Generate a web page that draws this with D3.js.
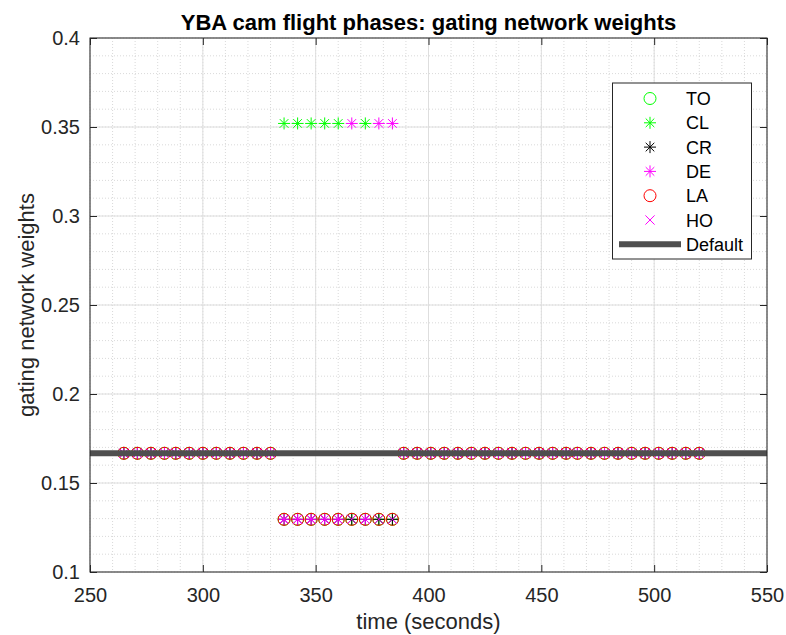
<!DOCTYPE html>
<html>
<head>
<meta charset="utf-8">
<script src="https://cdn.jsdelivr.net/npm/d3@7.9.0/dist/d3.min.js"></script>
<style>
  body { margin: 0; background: #fff; }
  svg { font-family: "Liberation Sans", Arial, Helvetica, sans-serif; }
</style>
</head>
<body>
<svg width="786" height="635"></svg>
<script>
// sample times (seconds)
const time = [265, 271, 277, 283, 288, 294, 300, 306, 312, 318, 324, 330,
  336, 342, 348, 354, 360, 366, 372, 378, 384,
  389, 395, 401, 407, 413, 419, 425, 431, 437, 443, 449, 455, 461, 466, 472, 478, 484, 490, 496, 502, 508, 514, 520];

// gating network weights per expert
const TO = [0.1667, 0.1667, 0.1667, 0.1667, 0.1667, 0.1667, 0.1667, 0.1667, 0.1667, 0.1667, 0.1667, 0.1667,
  0.1296, 0.1296, 0.1296, 0.1296, 0.1296, 0.1296, 0.1296, 0.1296, 0.1296,
  0.1667, 0.1667, 0.1667, 0.1667, 0.1667, 0.1667, 0.1667, 0.1667, 0.1667, 0.1667, 0.1667, 0.1667, 0.1667, 0.1667, 0.1667, 0.1667, 0.1667, 0.1667, 0.1667, 0.1667, 0.1667, 0.1667, 0.1667];
const CL = [0.1667, 0.1667, 0.1667, 0.1667, 0.1667, 0.1667, 0.1667, 0.1667, 0.1667, 0.1667, 0.1667, 0.1667,
  0.352, 0.352, 0.352, 0.352, 0.352, 0.1296, 0.352, 0.1296, 0.1296,
  0.1667, 0.1667, 0.1667, 0.1667, 0.1667, 0.1667, 0.1667, 0.1667, 0.1667, 0.1667, 0.1667, 0.1667, 0.1667, 0.1667, 0.1667, 0.1667, 0.1667, 0.1667, 0.1667, 0.1667, 0.1667, 0.1667, 0.1667];
const CR = [0.1667, 0.1667, 0.1667, 0.1667, 0.1667, 0.1667, 0.1667, 0.1667, 0.1667, 0.1667, 0.1667, 0.1667,
  0.1296, 0.1296, 0.1296, 0.1296, 0.1296, 0.1296, 0.1296, 0.1296, 0.1296,
  0.1667, 0.1667, 0.1667, 0.1667, 0.1667, 0.1667, 0.1667, 0.1667, 0.1667, 0.1667, 0.1667, 0.1667, 0.1667, 0.1667, 0.1667, 0.1667, 0.1667, 0.1667, 0.1667, 0.1667, 0.1667, 0.1667, 0.1667];
const DE = [0.1667, 0.1667, 0.1667, 0.1667, 0.1667, 0.1667, 0.1667, 0.1667, 0.1667, 0.1667, 0.1667, 0.1667,
  0.1296, 0.1296, 0.1296, 0.1296, 0.1296, 0.352, 0.1296, 0.352, 0.352,
  0.1667, 0.1667, 0.1667, 0.1667, 0.1667, 0.1667, 0.1667, 0.1667, 0.1667, 0.1667, 0.1667, 0.1667, 0.1667, 0.1667, 0.1667, 0.1667, 0.1667, 0.1667, 0.1667, 0.1667, 0.1667, 0.1667, 0.1667];
const LA = [0.1667, 0.1667, 0.1667, 0.1667, 0.1667, 0.1667, 0.1667, 0.1667, 0.1667, 0.1667, 0.1667, 0.1667,
  0.1296, 0.1296, 0.1296, 0.1296, 0.1296, 0.1296, 0.1296, 0.1296, 0.1296,
  0.1667, 0.1667, 0.1667, 0.1667, 0.1667, 0.1667, 0.1667, 0.1667, 0.1667, 0.1667, 0.1667, 0.1667, 0.1667, 0.1667, 0.1667, 0.1667, 0.1667, 0.1667, 0.1667, 0.1667, 0.1667, 0.1667, 0.1667];
const HO = [0.1667, 0.1667, 0.1667, 0.1667, 0.1667, 0.1667, 0.1667, 0.1667, 0.1667, 0.1667, 0.1667, 0.1667,
  0.1296, 0.1296, 0.1296, 0.1296, 0.1296, 0.1296, 0.1296, 0.1296, 0.1296,
  0.1667, 0.1667, 0.1667, 0.1667, 0.1667, 0.1667, 0.1667, 0.1667, 0.1667, 0.1667, 0.1667, 0.1667, 0.1667, 0.1667, 0.1667, 0.1667, 0.1667, 0.1667, 0.1667, 0.1667, 0.1667, 0.1667, 0.1667];

const defaultWeight = 0.1667;
const xTicks = [250, 300, 350, 400, 450, 500, 550];
const yTicks = [0.1, 0.15, 0.2, 0.25, 0.3, 0.35, 0.4];

const series = [
  { name: 'TO', values: TO, marker: 'circle', color: '#00ff00' },
  { name: 'CL', values: CL, marker: 'star', color: '#00ff00' },
  { name: 'CR', values: CR, marker: 'star', color: '#000000' },
  { name: 'DE', values: DE, marker: 'star', color: '#ff00ff' },
  { name: 'LA', values: LA, marker: 'circle', color: '#ff0000' },
  { name: 'HO', values: HO, marker: 'cross', color: '#ff00ff' }
];

const axL = 90, axR = 767, axT = 38, axB = 572;
const ink = '#262626';

let x = d3.scaleLinear().domain([250, 550]).range([axL, axR]);
let y = d3.scaleLinear().domain([0.1, 0.4]).range([axB, axT]);

let svg = d3.select('svg');

svg.append('defs').append('clipPath').attr('id', 'plot')
  .append('rect')
  .attr('x', axL).attr('y', axT)
  .attr('width', axR - axL).attr('height', axB - axT);

// minor grid (dotted), then major grid
let grid = svg.append('g');
x.ticks(30).forEach(t => {
  grid.append('line')
    .attr('x1', x(t)).attr('x2', x(t)).attr('y1', axT).attr('y2', axB)
    .attr('stroke', '#cfcfcf').attr('stroke-width', 0.8).attr('stroke-dasharray', '1,2');
});
y.ticks(30).forEach(t => {
  grid.append('line')
    .attr('y1', y(t)).attr('y2', y(t)).attr('x1', axL).attr('x2', axR)
    .attr('stroke', '#cfcfcf').attr('stroke-width', 0.8).attr('stroke-dasharray', '1,2');
});
xTicks.forEach(t => {
  grid.append('line')
    .attr('x1', x(t)).attr('x2', x(t)).attr('y1', axT).attr('y2', axB)
    .attr('stroke', '#dedede').attr('stroke-width', 1);
});
yTicks.forEach(t => {
  grid.append('line')
    .attr('y1', y(t)).attr('y2', y(t)).attr('x1', axL).attr('x2', axR)
    .attr('stroke', '#dedede').attr('stroke-width', 1);
});

function drawMarker(g, type, color) {
  if (type === 'circle') {
    g.append('circle').attr('r', 6).attr('fill', 'none')
      .attr('stroke', color).attr('stroke-width', 1);
  } else if (type === 'star') {
    g.append('path').attr('d', 'M-6,0H6M0,-6V6M-4.3,-4.3L4.3,4.3M-4.3,4.3L4.3,-4.3')
      .attr('fill', 'none').attr('stroke', color).attr('stroke-width', 1);
  } else {
    g.append('path').attr('d', 'M-4.6,-4.6L4.6,4.6M-4.6,4.6L4.6,-4.6')
      .attr('fill', 'none').attr('stroke', color).attr('stroke-width', 1);
  }
}

let plot = svg.append('g').attr('clip-path', 'url(#plot)');

series.forEach(s => {
  time.forEach((t, i) => {
    let g = plot.append('g').attr('transform', `translate(${x(t)},${y(s.values[i])})`);
    drawMarker(g, s.marker, s.color);
  });
});

// Default weight line
plot.append('line')
  .attr('x1', x(250)).attr('x2', x(550))
  .attr('y1', y(defaultWeight)).attr('y2', y(defaultWeight))
  .attr('stroke', '#4f4f4f').attr('stroke-width', 6);

// axes, ticks pointing inward
function styleAxis(g) {
  g.select('.domain').remove();
  g.selectAll('line').attr('stroke', ink);
  g.selectAll('text').attr('fill', ink).attr('font-size', 20)
    .attr('font-family', '"Liberation Sans", Arial, sans-serif');
}

svg.append('g').attr('transform', `translate(0,${axB})`)
  .call(d3.axisBottom(x).tickValues(xTicks).tickSize(-7).tickPadding(15.5).tickFormat(d3.format('')))
  .call(styleAxis);
svg.append('g').attr('transform', `translate(0,${axT})`)
  .call(d3.axisTop(x).tickValues(xTicks).tickSize(-7).tickFormat(''))
  .call(styleAxis);
svg.append('g').attr('transform', `translate(${axL},0)`)
  .call(d3.axisLeft(y).tickValues(yTicks).tickSize(-7).tickPadding(10).tickFormat(d => String(+d.toFixed(2))))
  .call(styleAxis);
svg.append('g').attr('transform', `translate(${axR},0)`)
  .call(d3.axisRight(y).tickValues(yTicks).tickSize(-7).tickFormat(''))
  .call(styleAxis);

svg.append('rect')
  .attr('x', axL).attr('y', axT).attr('width', axR - axL).attr('height', axB - axT)
  .attr('fill', 'none').attr('stroke', ink).attr('stroke-width', 1);

// title and labels
svg.append('text')
  .attr('x', (axL + axR) / 2).attr('y', 30)
  .attr('text-anchor', 'middle').attr('font-size', 22).attr('font-weight', 'bold')
  .attr('fill', '#000')
  .text('YBA cam flight phases: gating network weights');

svg.append('text')
  .attr('x', (axL + axR) / 2).attr('y', 629)
  .attr('text-anchor', 'middle').attr('font-size', 22).attr('fill', ink)
  .text('time (seconds)');

svg.append('text')
  .attr('transform', `translate(34,${(axT + axB) / 2}) rotate(-90)`)
  .attr('text-anchor', 'middle').attr('font-size', 22).attr('fill', ink)
  .text('gating network weights');

// legend
let legend = svg.append('g');
legend.append('rect')
  .attr('x', 612.5).attr('y', 83).attr('width', 139).attr('height', 176)
  .attr('fill', '#fff').attr('stroke', ink).attr('stroke-width', 1);

let entries = series.map(s => s.name).concat(['Default']);
entries.forEach((name, i) => {
  let cy = 98.5 + i * 24.3;
  if (i < series.length) {
    let g = legend.append('g').attr('transform', `translate(650,${cy})`);
    drawMarker(g, series[i].marker, series[i].color);
  } else {
    legend.append('line')
      .attr('x1', 619).attr('x2', 681).attr('y1', cy).attr('y2', cy)
      .attr('stroke', '#4f4f4f').attr('stroke-width', 6);
  }
  legend.append('text')
    .attr('x', 686).attr('y', cy + 6.5)
    .attr('font-size', 18).attr('fill', '#000')
    .text(name);
});
</script>
</body>
</html>
